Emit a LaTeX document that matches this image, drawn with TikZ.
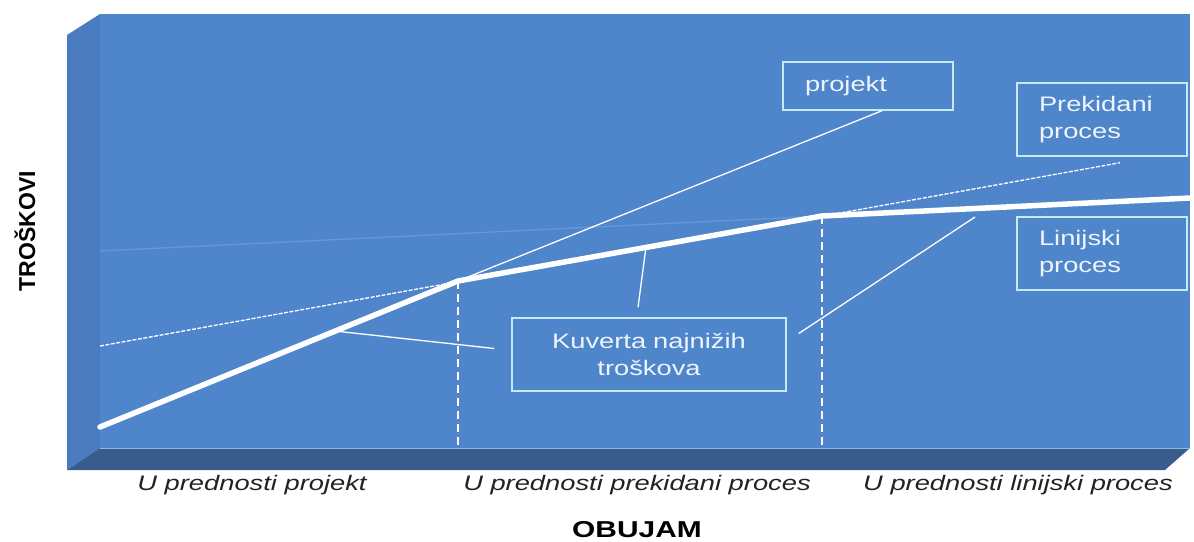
\documentclass[tikz,border=0pt]{standalone}
\usepackage{fontspec}
\setmainfont{Liberation Sans}
\newfontfamily\boxfont{Liberation Sans}[FakeStretch=1.3]
\definecolor{facecol}{HTML}{4F85CA}
\definecolor{sidecol}{HTML}{4A7BBE}
\definecolor{floorcol}{HTML}{385C8C}
\definecolor{edgecol}{HTML}{8DB6E4}
\definecolor{boxline}{HTML}{C4EAF6}
\definecolor{boxtext}{HTML}{EEF4FB}
\definecolor{labeltext}{HTML}{222222}
\tikzset{
  labelbox/.style={draw=boxline, line width=1.4pt, fill=facecol, text=boxtext,
    font=\boxfont\fontsize{21}{27}\selectfont, inner xsep=22pt, inner ysep=0pt,
    text width=126pt, align=left, minimum height=73pt},
  axislabel/.style={text=labeltext, font=\boxfont\itshape\fontsize{21}{25}\selectfont, anchor=base},
  envelope/.style={draw=white, line width=5.5pt, line cap=round, line join=round},
  thinline/.style={draw=white, line width=1.3pt},
  border/.style={draw=white, line width=2pt, dash pattern=on 8pt off 5pt}
}
\begin{document}
\begin{tikzpicture}[x=1pt, y=-1pt]
\useasboundingbox (0,0) rectangle (1194,541);
%box: side, floor, face
\fill[sidecol] (67,35) -- (100,14) -- (100,448) -- (67,470) -- cycle;
\fill[floorcol] (67,470) -- (100,448) -- (1190,448) -- (1165,470) -- cycle;
\fill[facecol] (100,14) rectangle (1190,448);
\draw[edgecol, line width=1pt] (100,448) -- (1190,448); %top of floor

\coordinate (fl) at (100,448); %bottom left of face
\coordinate (a0) at (100,427); %start of projekt line
\coordinate (k1) at (458,281); %projekt -> prekidani
\coordinate (k2) at (822,216); %prekidani -> linijski
\coordinate (a3) at (1190,198);
\coordinate (p0) at (100,346); %start of prekidani line
\coordinate (l0) at (100,251); %start of linijski line
\coordinate (e1) at (335,331);
\coordinate (e2) at (646,247);
\coordinate (e3) at (975,217);

%boxes
\node[labelbox, minimum height=48pt] (projekt) at (868,86) {projekt};
\node[labelbox] (prekidani) at (1102,119.5) {Prekidani\\proces};
\node[labelbox] (linijski) at (1102,253.5) {Linijski\\proces};
\node[labelbox, text width=230pt, align=center] (kuverta) at (649,354.5) {Kuverta najnižih\\troškova};

%process lines
\draw[white, opacity=0.15, line width=1.3pt] (l0) -- (k2); %linijski, left part
\draw[thinline, dash pattern=on 4pt off 1.5pt] (p0) -- ([xshift=18pt,yshift=-6pt]prekidani.south);
\draw[thinline] (k1) -- ([xshift=14pt]projekt.south);
\draw[border] (k1) -- (k1 |- fl);
\draw[border] (k2) -- (k2 |- fl);
\draw[envelope] (a0) -- (k1) -- (k2) -- (a3);

%leaders of the envelope box
\draw[thinline] ([xshift=-17pt,yshift=6pt]kuverta.west) -- (e1);
\draw[thinline] ([xshift=-11pt,yshift=10pt]kuverta.north) -- (e2);
\draw[thinline] ([xshift=12pt,yshift=21pt]kuverta.east) -- (e3);

%axes
\node[rotate=90, font=\bfseries\fontsize{23}{23}\selectfont] (troskovi) at (25,231) {TROŠKOVI};
\node[axislabel] (uprojekt) at (252,490) {U prednosti projekt};
\node[axislabel] (uprekidani) at (637,490) {U prednosti prekidani proces};
\node[axislabel] (ulinijski) at (1018,490) {U prednosti linijski proces};
\node[anchor=base, font=\boxfont\bfseries\fontsize{23}{23}\selectfont] (obujam) at (637,537) {OBUJAM};
\end{tikzpicture}
\end{document}
